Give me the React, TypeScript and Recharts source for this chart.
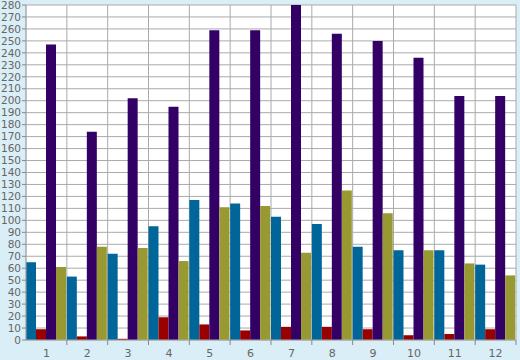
import React from 'react';
import { BarChart, Bar, XAxis, YAxis, CartesianGrid } from 'recharts';

const categories = ['1', '2', '3', '4', '5', '6', '7', '8', '9', '10', '11', '12'];
const seriesBlue = [65, 53, 72, 95, 117, 114, 103, 97, 78, 75, 75, 63];
const seriesRed = [9, 3, 1, 19, 13, 8, 11, 11, 9, 4, 5, 9];
const seriesPurple = [247, 174, 202, 195, 259, 259, 280, 256, 250, 236, 204, 204];
const seriesOlive = [61, 78, 77, 66, 111, 112, 73, 125, 106, 75, 64, 54];
const yTicks = [0, 10, 20, 30, 40, 50, 60, 70, 80, 90, 100, 110, 120, 130, 140, 150, 160, 170, 180, 190, 200, 210, 220, 230, 240, 250, 260, 270, 280];

const data = categories.map((c, i) => ({
    name: c,
    a: seriesBlue[i],
    b: seriesRed[i],
    c: seriesPurple[i],
    d: seriesOlive[i],
}));

const W = 520;
const H = 360;
const margin = { top: 5, right: 4, left: 0, bottom: 0 };
const yAxisWidth = 26;
const plotWidth = W - margin.left - margin.right - yAxisWidth;
const band = plotWidth / categories.length;

const axisFont = '"DejaVu Sans", sans-serif';
const gridColor = '#aaaaaa';
const labelColor = '#666666';

function XTick(props: any) {
    const { x, y, payload } = props;
    return (
        <g>
            <line x1={x + band / 2} y1={y - 8} x2={x + band / 2} y2={y - 3} stroke="#888" />
            <text x={x} y={y + 9} textAnchor="middle" fontSize={11} fill={labelColor} fontFamily={axisFont}>
                {payload.value}
            </text>
        </g>
    );
}

export default function App() {
    return (
        <div style={{ position: 'absolute', left: 0, top: 0, width: W, height: H, background: '#d9eef6' }}>
            <BarChart
                width={W}
                height={H}
                data={data}
                margin={margin}
                barCategoryGap={0}
                barGap={0}
            >
                <CartesianGrid
                    stroke={gridColor}
                    fill="#ffffff"
                    fillOpacity={1}
                    verticalCoordinatesGenerator={({ offset }: any) => {
                        const bw = offset.width / categories.length;
                        const pts = categories.map((_, i) => offset.left + i * bw);
                        pts.push(offset.left + offset.width);
                        return pts;
                    }}
                />
                <XAxis
                    dataKey="name"
                    height={20}
                    padding={{ left: 0, right: 0 }}
                    tickLine={false}
                    axisLine={{ stroke: gridColor }}
                    tick={<XTick />}
                    interval={0}
                />
                <YAxis
                    width={yAxisWidth}
                    domain={[0, 280]}
                    ticks={yTicks}
                    interval={0}
                    allowDataOverflow
                    tickSize={4}
                    tickLine={{ stroke: '#888' }}
                    axisLine={{ stroke: gridColor }}
                    tickMargin={1}
                    tick={{ fontSize: 10.5, fill: labelColor, fontFamily: axisFont }}
                />
                <Bar dataKey="a" fill="#006699" isAnimationActive={false} />
                <Bar dataKey="b" fill="#990000" isAnimationActive={false} />
                <Bar dataKey="c" fill="#330066" isAnimationActive={false} />
                <Bar dataKey="d" fill="#999933" isAnimationActive={false} />
            </BarChart>
        </div>
    );
}
